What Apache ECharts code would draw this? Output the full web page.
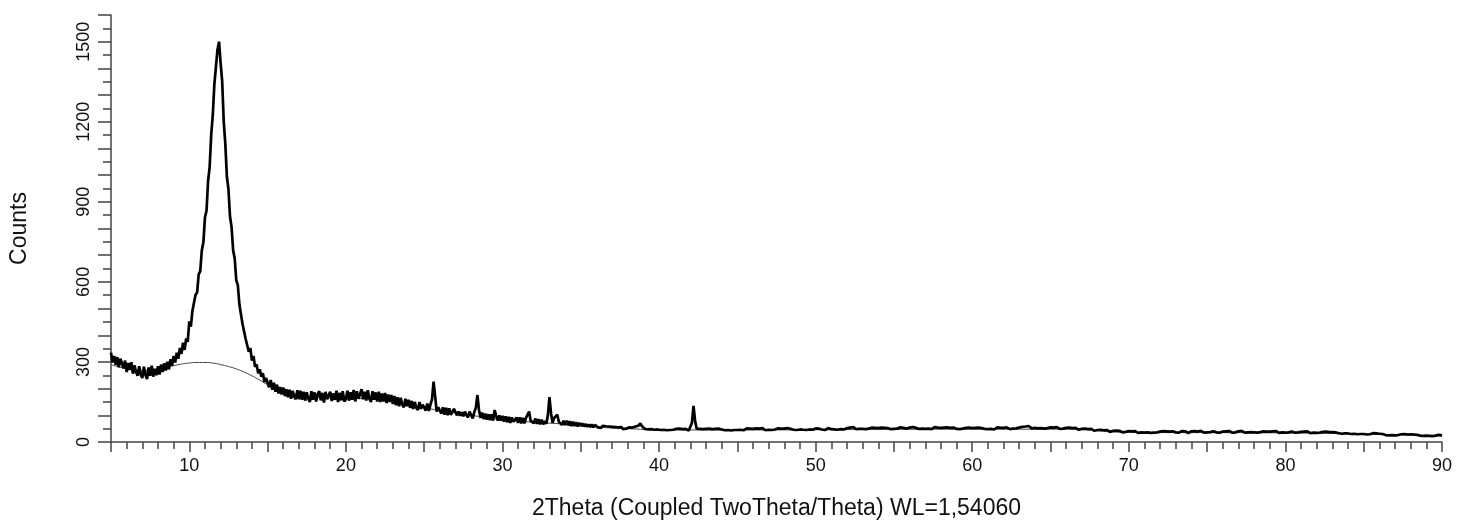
<!DOCTYPE html>
<html>
<head>
<meta charset="utf-8">
<script src="https://cdn.jsdelivr.net/npm/echarts@6/dist/echarts.min.js"></script>
<style>
html,body{margin:0;padding:0;background:#fff;}
#chart{width:1463px;height:529px;}
</style>
</head>
<body>
<div id="chart"></div>
<script>
// Scan grid: 2Theta from 5.0 to 90.0 in steps of 0.1 degree
const thetaStart = 5.0;
const thetaStep = 0.1;

const counts = [
335,298,322,289,318,280,312,294,276,305,
262,296,270,299,256,287,262,248,284,252,
240,282,251,236,279,248,286,245,274,250,
284,253,290,262,295,268,301,272,310,286,
322,298,335,312,352,330,372,345,388,375,
452,432,492,486,552,560,628,640,718,748,
842,866,978,1030,1152,1225,1340,1405,1470,1500,
1420,1352,1200,1118,995,948,845,805,718,688,
606,588,515,508,442,440,386,390,338,352,
305,322,282,290,258,272,245,258,225,240,
244,205,232,196,222,188,215,182,206,178,
204,172,198,168,196,162,192,170,160,194,
160,192,158,188,155,186,162,150,190,158,
186,152,180,190,156,184,148,188,160,175,
188,154,182,158,192,150,184,156,190,152,
160,192,155,186,158,195,152,190,162,178,
198,160,188,155,194,162,150,190,158,186,
152,188,150,182,152,184,146,178,150,176,
142,172,138,168,134,166,140,130,162,134,
158,128,154,124,150,128,120,150,124,140,
147,118,144,116,140,160,226,172,114,130,
136,106,130,102,128,100,126,102,96,124,
118,100,114,98,112,96,114,100,92,114,
110,88,112,128,176,120,90,110,86,106,
84,104,82,104,80,120,98,80,100,80,
98,76,96,74,94,72,92,76,72,92,
72,92,70,90,70,90,96,114,80,86,
70,88,68,86,66,84,66,78,68,100,
168,108,72,90,96,102,76,80,64,80,
64,80,62,78,60,76,60,74,58,72,
60,70,58,68,57,66,56,66,55,64,
61,55,60,53,61,54,59,52,58,53,
57,51,56,49,55,50,56,48,54,50,
51,55,49,54,52,58,56,62,70,60,
55,49,53,47,52,48,53,46,51,47,
50,45,51,46,49,44,50,45,49,46,
44,49,45,50,43,48,44,49,45,43,
48,72,135,80,50,45,49,44,48,43,
49,44,50,45,48,43,49,45,50,44,
47,50,44,49,45,51,43,48,45,49,
45,50,46,52,44,49,51,45,50,46,
49,44,51,46,50,45,52,47,44,50,
46,51,45,50,47,44,51,46,50,45,
50,46,52,45,49,51,46,50,45,51,
47,52,46,50,45,51,47,53,46,50,
51,46,50,53,47,51,45,50,52,47,
48,53,47,51,46,52,48,54,47,51,
52,47,54,49,56,51,48,55,49,53,
49,54,48,53,50,47,54,49,53,48,
52,48,54,49,53,47,52,54,48,53,
49,54,50,48,55,49,53,56,50,48,
54,50,56,49,53,55,49,54,50,53,
49,55,50,54,48,53,56,49,54,50,
53,48,54,50,55,49,53,48,54,50,
49,53,48,54,50,47,53,49,54,48,
52,47,53,49,54,48,52,55,49,53,
48,54,49,53,47,52,55,49,53,48,
53,49,55,50,48,54,50,56,51,49,
54,50,57,51,58,53,60,54,51,57,
53,58,51,56,52,57,50,55,52,51,
55,50,54,49,56,51,49,54,50,48,
53,49,54,48,52,47,53,49,46,51,
49,45,50,44,48,43,49,44,42,47,
45,41,46,40,44,39,45,41,38,44,
42,38,43,37,42,39,36,42,38,39,
41,36,40,35,41,37,34,40,36,39,
35,40,36,41,34,39,35,40,36,34,
39,35,41,36,40,34,39,35,40,36,
36,40,35,39,41,35,40,36,34,39,
40,36,41,35,39,36,42,37,35,40,
36,41,37,35,40,42,36,40,35,39,
39,35,40,36,41,37,35,40,36,41,
40,36,42,37,35,40,36,41,37,35,
36,40,35,41,37,36,40,35,39,36,
39,35,40,36,41,37,34,40,36,39,
35,40,36,34,39,41,35,39,36,40,
38,34,39,35,40,36,33,39,35,38,
34,39,35,33,38,34,39,32,37,33,
37,32,36,38,33,37,31,36,32,35,
32,36,30,35,31,36,29,34,30,33,
30,34,28,33,29,27,33,28,32,27,
31,26,30,32,26,31,25,30,26,29,
25,30,26,24,29,25,30,24,28,25,
29,24,28,23,27,29,24,28,23,27,
24,28,23,27,22,27,24,21,27,23,
25
];

// Fitted background curve (thin line)
const bgTheta  = [5,6,7,8,8.6,9,9.5,10,10.5,11,11.5,12,12.5,13,13.5,14,14.5,15,16,17,18,20,22,24,26,28,30,32,34,36,38,40,45,50,60,66,70,80,90];
const bgCounts = [290,275,268,272,280,286,292,296,298,298,296,290,283,274,262,248,232,215,192,176,168,164,160,140,118,100,84,74,67,56,50,46,45,46,48,48,36,34,22];

// Axis tick settings (values)
const xMin = 5, xMax = 90, xMajor = 5, xLabelEvery = 10;
const yMin = 0, yMax = 1600, yMajor = 100, yLabelEvery = 300;

const xTitle = '2Theta (Coupled TwoTheta/Theta) WL=1,54060';
const yTitle = 'Counts';

const scanData = counts.map((c, i) => [+(thetaStart + i * thetaStep).toFixed(1), c]);
const bgData = bgTheta.map((t, i) => [t, bgCounts[i]]);

const FONT = 'Liberation Sans, Arial, sans-serif';
const chart = echarts.init(document.getElementById('chart'), null, {renderer: 'canvas'});
chart.setOption({
  animation: false,
  backgroundColor: '#fff',
  grid: {left: 111, right: 21, top: 15, bottom: 87, containLabel: false},
  xAxis: {
    type: 'value', min: xMin, max: xMax, interval: xMajor,
    name: xTitle, nameLocation: 'middle', nameGap: 55,
    nameTextStyle: {fontFamily: FONT, fontSize: 23, color: '#111'},
    axisLine: {show: true, onZero: false, lineStyle: {color: '#444', width: 1.5}},
    axisTick: {show: true, length: 10, lineStyle: {color: '#444', width: 1.5}},
    minorTick: {show: true, splitNumber: 5, length: 7, lineStyle: {color: '#444', width: 1.5}},
    splitLine: {show: false},
    axisLabel: {
      margin: 15, fontFamily: FONT, fontSize: 18, color: '#111',
      formatter: v => (Math.round(v) % xLabelEvery === 0 ? String(Math.round(v)) : '')
    }
  },
  yAxis: {
    type: 'value', min: yMin, max: yMax, interval: yMajor,
    name: yTitle, nameLocation: 'middle', nameGap: 80, nameRotate: 90,
    nameTextStyle: {fontFamily: FONT, fontSize: 23, color: '#111'},
    axisLine: {show: true, lineStyle: {color: '#444', width: 1.5}},
    axisTick: {show: true, length: 13, lineStyle: {color: '#444', width: 1.5}},
    minorTick: {show: true, splitNumber: 2, length: 8, lineStyle: {color: '#444', width: 1.5}},
    splitLine: {show: false},
    axisLabel: {
      rotate: 90, margin: 18, fontFamily: FONT, fontSize: 18, color: '#111',
      formatter: v => (Math.round(v) % yLabelEvery === 0 ? String(Math.round(v)) : '')
    }
  },
  series: [
    {
      name: 'background', type: 'line', data: bgData, smooth: true,
      showSymbol: false, symbol: 'none', z: 1,
      lineStyle: {color: '#444', width: 1}
    },
    {
      name: 'scan', type: 'line', data: scanData,
      showSymbol: false, symbol: 'none', z: 2,
      lineStyle: {color: '#000', width: 2.7}
    }
  ]
});
</script>
</body>
</html>
